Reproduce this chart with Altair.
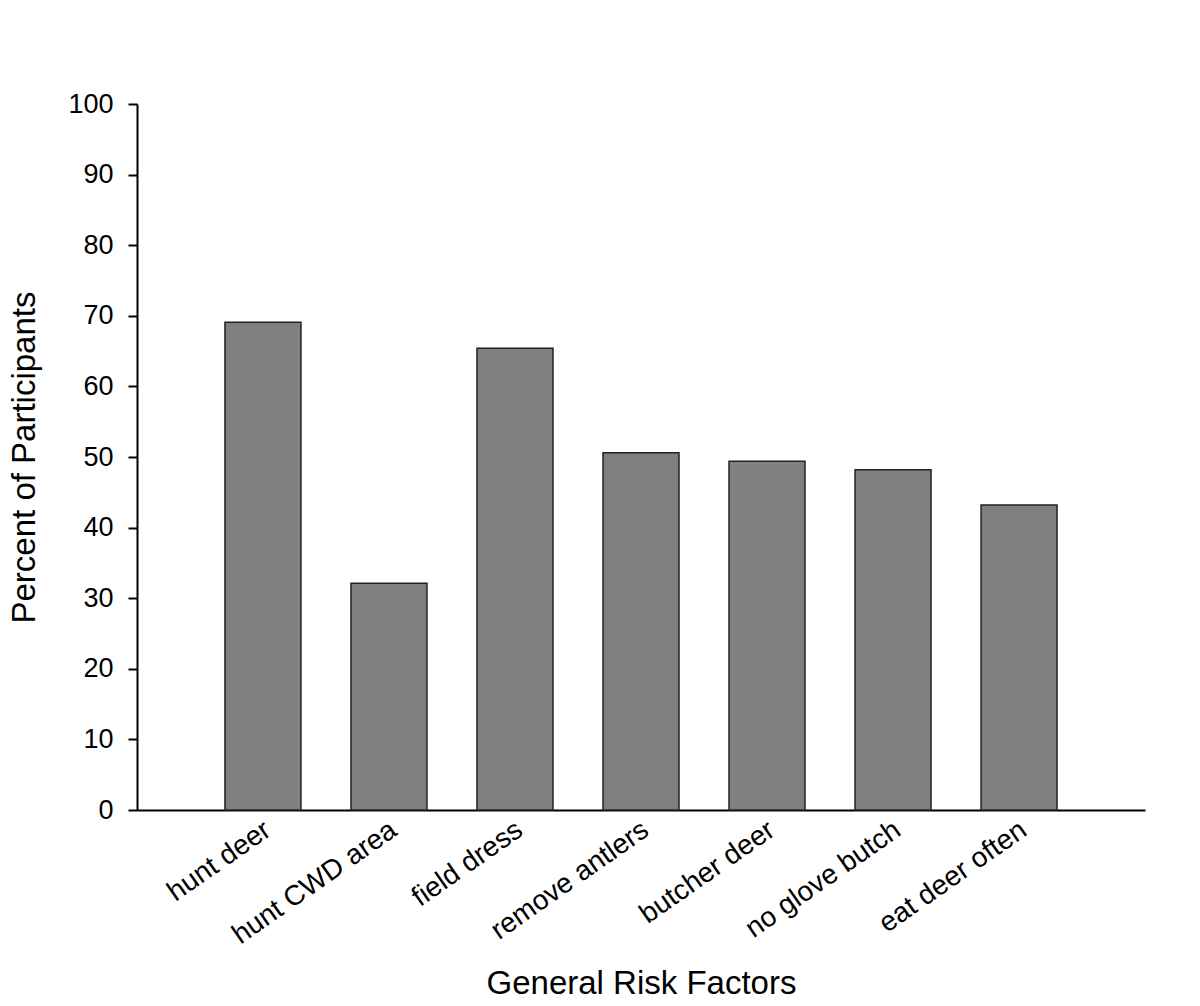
import altair as alt
import pandas as pd

categories = ["hunt deer", "hunt CWD area", "field dress", "remove antlers",
              "butcher deer", "no glove butch", "eat deer often"]
values = [69.1, 32.1, 65.4, 50.6, 49.4, 48.2, 43.2]

df = pd.DataFrame({"factor": categories, "pct": values})

FONT = "Liberation Sans"

bars = alt.Chart(df).mark_bar(
    color="#808080", stroke="#222222", strokeWidth=1.5
).encode(
    x=alt.X("factor:N", sort=categories,
            scale=alt.Scale(paddingInner=0.397, paddingOuter=0.698),
            axis=alt.Axis(title="General Risk Factors", labelAngle=-35,
                          labelAlign="right", labelBaseline="middle",
                          ticks=False, labelPadding=17, labelOffset=5,
                          labelLimit=0, labelFontSize=28,
                          titleFontSize=33, titleFontWeight="normal",
                          titlePadding=18, domainWidth=2, domainColor="black",
                          labelColor="black", titleColor="black",
                          labelFont=FONT, titleFont=FONT)),
    y=alt.Y("pct:Q", scale=alt.Scale(domain=[0, 100], nice=False),
            axis=alt.Axis(title="Percent of Participants",
                          values=list(range(0, 101, 10)), grid=False,
                          tickSize=9, tickWidth=2, tickColor="black",
                          domainWidth=2, domainColor="black",
                          labelFontSize=27, labelPadding=15, labelColor="black",
                          titleFontSize=33, titleFontWeight="normal",
                          titleColor="black", titlePadding=26,
                          labelFont=FONT, titleFont=FONT)),
)

chart = bars.properties(
    width=1008, height=706,
    background="white",
    autosize=alt.AutoSizeParams(type="none"),
    padding={"left": 129, "top": 96, "right": 47, "bottom": 188},
).configure_view(strokeWidth=0, stroke="transparent")

chart.save("out.html", embed_options={"renderer": "svg", "actions": False})
